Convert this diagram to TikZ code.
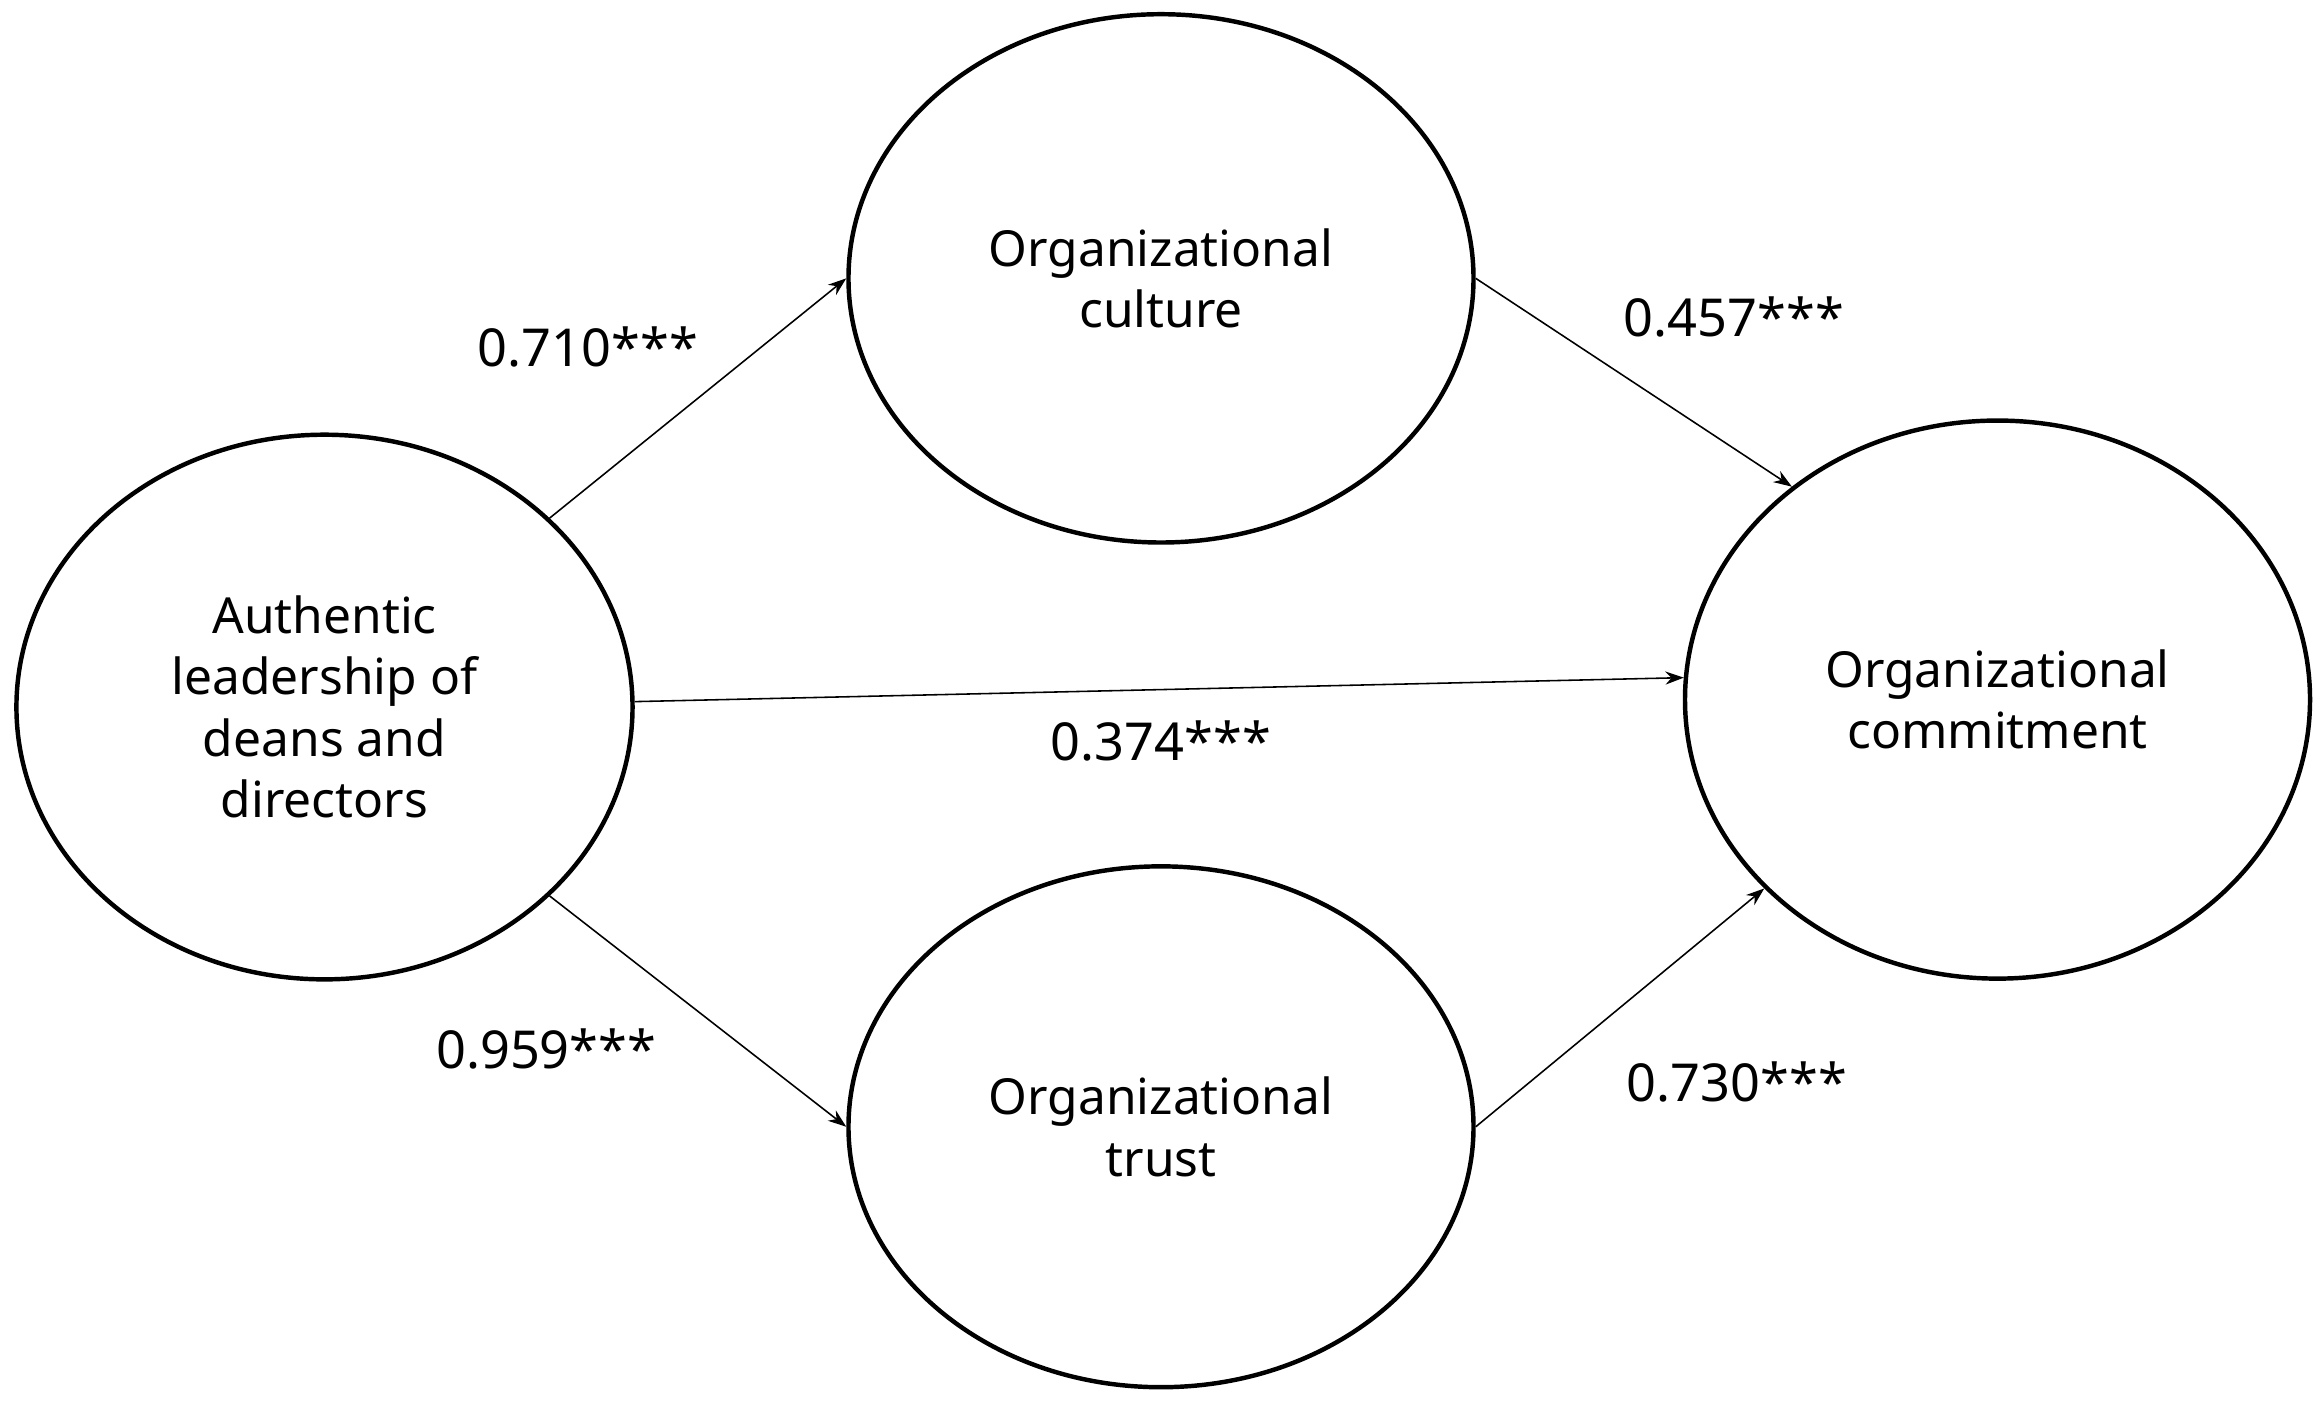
\documentclass[tikz,border=0pt]{standalone}
\usepackage{fontspec}
\setmainfont{Noto Sans}
\usetikzlibrary{shapes.geometric,arrows.meta}
\begin{document}
\begin{tikzpicture}[x=0.02cm,y=-0.02cm,
  ell/.style={ellipse,draw,line width=1.7pt,inner sep=0pt,align=center,font=\bfseries\fontsize{19}{23.5}\selectfont},
  arr/.style={-{Stealth[length=7pt,width=5pt]},line width=0.6pt},
  lab/.style={font=\bfseries\fontsize{20}{24}\selectfont}]
\useasboundingbox (0,0) rectangle (1560,941);
\node[ell,minimum width=414\pgflinewidth*0+8.28cm,minimum height=7.32cm] (L) at (218,475) {Authentic\\leadership of\\deans and\\directors};
\node[ell,minimum width=8.4cm,minimum height=7.1cm] (T) at (780,187) {Organizational\\culture};
\node[ell,minimum width=8.4cm,minimum height=7.0cm] (B) at (780,757) {Organizational\\trust};
\node[ell,minimum width=8.4cm,minimum height=7.5cm] (R) at (1342,470) {Organizational\\commitment};
\draw[arr] (L.40.5) -- (T.180);
\draw[arr] (T.0) -- (R.134.6);
\draw[arr] (L.1) -- (R.176);
\draw[arr] (L.320.6) -- (B.180);
\draw[arr] (B.0) -- (R.219);
\node[lab] (a) at (395,233) {0.710***};
\node[lab] (b) at (1165,213) {0.457***};
\node[lab] (c) at (780,498) {0.374***};
\node[lab] (d) at (367,705) {0.959***};
\node[lab] (e) at (1167,727) {0.730***};
\end{tikzpicture}
\end{document}
